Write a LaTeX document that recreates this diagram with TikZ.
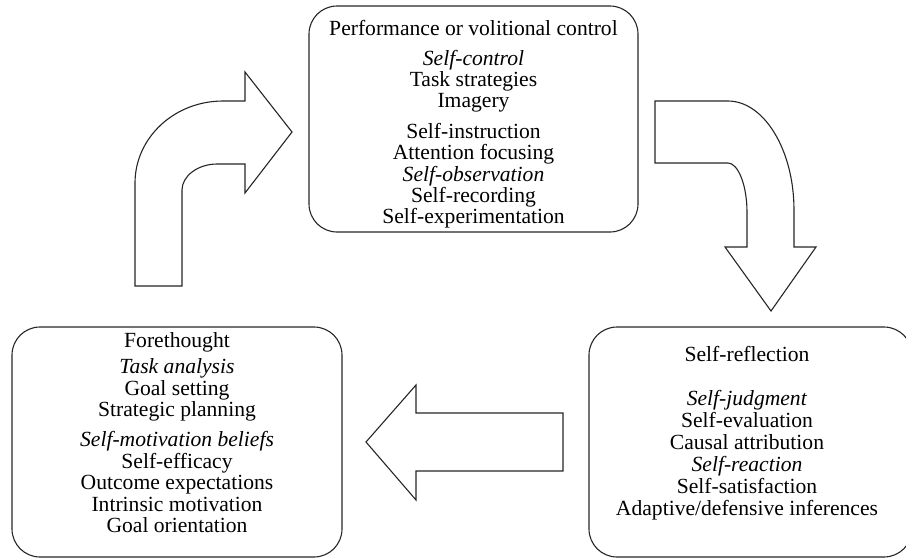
\documentclass[tikz,border=0pt]{standalone}
\usepackage{fontspec}
\setmainfont{Liberation Serif}
\usepackage{tikz}
\usetikzlibrary{shapes}
\tikzset{
    normal/.style={draw=black!85, line width=0.55pt},
    phase/.style={style=normal, rectangle, rounded corners=14pt, inner sep=0}, % the three phase boxes
    items/.style={align=center, inner sep=0, anchor=north, font=\fontsize{10.8}{10.7}\selectfont}, % text in a box
    bigarrow/.style={style=normal, fill=white, line join=miter} % block arrows between phases
}
\tikzstyle{emph}=[font=\itshape]

\begin{document}
\begin{tikzpicture}[x=0.5pt, y=-0.5pt]
          \useasboundingbox (0, 0) rectangle (906, 558);

          \node[phase, minimum width=164.5pt, minimum height=113pt] (perf) at (473.5, 119) {};
          \node[phase, minimum width=165pt, minimum height=115pt] (fore) at (177, 442) {};
          \node[phase, minimum width=161.5pt, minimum height=115pt] (refl) at (750.5, 442) {};

          \node[items] (perf_text) at (473.5, 20) {Performance or volitional control\\[4pt]
            \textit{Self-control}\\ Task strategies\\ Imagery\\[4.5pt]
            Self-instruction\\ Attention focusing\\ \textit{Self-observation}\\
            Self-recording\\ Self-experimentation};
          \node[items] (fore_text) at (177, 332) {Forethought\\[2.5pt]
            \textit{Task analysis}\\ Goal setting\\ Strategic planning\\[4.5pt]
            \textit{Self-motivation beliefs}\\ Self-efficacy\\ Outcome expectations\\
            Intrinsic motivation\\ Goal orientation};
          \node[items, font=\fontsize{10.8}{10.95}\selectfont] (refl_text) at (747, 346) {Self-reflection\\[11pt]
            \textit{Self-judgment}\\ Self-evaluation\\ Causal attribution\\
            \textit{Self-reaction}\\ Self-satisfaction\\ Adaptive/defensive inferences};

          % forethought -> performance
          \draw[bigarrow] (135, 286) -- (135, 183) .. controls (135, 138) and (174, 101) .. (223, 101)
            -- (245, 101) -- (245, 72) -- (292, 132) -- (245, 193) -- (245, 164) -- (217, 164)
            .. controls (198, 164) and (182, 176) .. (182, 190) -- (182, 286) -- cycle;
          % performance -> self-reflection
          \draw[bigarrow] (655, 101) -- (728, 101) .. controls (764, 101) and (794, 150) .. (794, 210)
            -- (794, 247) -- (816, 247) -- (771, 311) -- (725, 247) -- (747, 247) -- (747, 212)
            .. controls (747, 185) and (738, 163) .. (728, 163) -- (655, 163) -- cycle;
          % self-reflection -> forethought
          \draw[bigarrow] (563, 413) -- (416, 413) -- (416, 385) -- (366, 442) -- (416, 500)
            -- (416, 471) -- (563, 471) -- cycle;
        \end{tikzpicture}
\end{document}
